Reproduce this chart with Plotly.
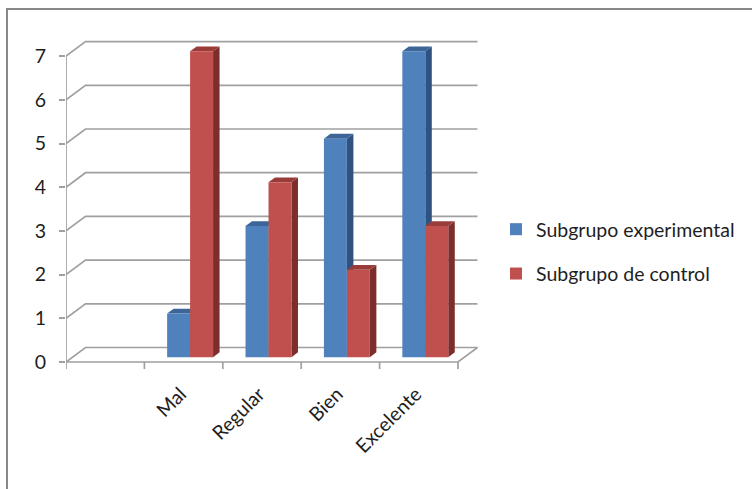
import plotly.graph_objects as go

# Datos
categorias = ["Mal", "Regular", "Bien", "Excelente"]
experimental = [1, 3, 5, 7]
control = [7, 4, 2, 3]
series = ["Subgrupo experimental", "Subgrupo de control"]
valores_y = [0, 1, 2, 3, 4, 5, 6, 7]

# Colores (cara frontal, lateral, superior)
AZUL = ("#4F81BD", "#2F5280", "#3D6598")
ROJO = ("#C0504D", "#7B2E2C", "#9A3C39")
GRIS = "#A0A0A0"
TEXTO = "#1E1E1E"

# Escala de píxeles por unidad de datos
W, H = 752, 489
X0, PX_X = 66, 78.4          # eje x: posición del origen y px por categoría
Y0, PX_Y = 362, 43.7         # eje y: posición del cero y px por unidad
LEFT, RIGHT, TOP, BOTTOM = 66, 486, 30, 378

# Profundidad del efecto 3D, en unidades de datos
DX = 19.5 / PX_X
DY = 14.5 / PX_Y
N_SLOTS = len(categorias) + 1      # primera ranura vacía
ANCHO = 0.293                      # ancho de cada barra
PROF0, PROF1 = 1 / 3, 2 / 3        # posición de las barras en la profundidad

fig = go.Figure()


def linea(xs, ys, color=GRIS, width=1.7):
    fig.add_trace(go.Scatter(x=xs, y=ys, mode="lines", line=dict(color=color, width=width),
                             hoverinfo="skip", showlegend=False))


def cara(xs, ys, color):
    fig.add_trace(go.Scatter(x=xs + [xs[0]], y=ys + [ys[0]], mode="lines", fill="toself",
                             fillcolor=color, line=dict(width=0, color=color),
                             hoverinfo="skip", showlegend=False))


# Suelo
cara([0, N_SLOTS, N_SLOTS + DX, DX], [0, 0, DY, DY], "white")

# Rejilla: paredes izquierda y trasera
vmax = max(valores_y)
for v in valores_y:
    linea([0, DX, N_SLOTS + DX], [v, v + DY, v + DY])
# Borde frontal y lateral derecho del suelo
linea([0, N_SLOTS, N_SLOTS + DX], [0, 0, DY])
# Eje vertical frontal
linea([0, 0], [0, vmax])
# Marcas de categoría
for k in range(N_SLOTS + 1):
    linea([k, k], [0, -7 / PX_Y])


def barra(izq, valor, colores):
    fx, fy = DX * PROF0, DY * PROF0
    bx, by = DX * (PROF1 - PROF0), DY * (PROF1 - PROF0)
    x0, x1 = izq + fx, izq + ANCHO + fx
    y0, y1 = fy, valor + fy
    # lateral
    cara([x1, x1 + bx, x1 + bx, x1], [y0, y0 + by, y1 + by, y1], colores[1])
    # superior
    cara([x0, x1, x1 + bx, x0 + bx], [y1, y1, y1 + by, y1 + by], colores[2])
    # frontal
    cara([x0, x1, x1, x0], [y0, y0, y1, y1], colores[0])


for i, (e, c) in enumerate(zip(experimental, control)):
    centro = i + 1 + 0.5
    barra(centro - ANCHO, e, AZUL)
    barra(centro, c, ROJO)

# Entradas de la leyenda
for nombre, col, grupo in zip(series, (AZUL[0], ROJO[0]), ("a", "b")):
    fig.add_trace(go.Scatter(x=[None], y=[None], mode="markers", name=nombre,
                             legendgroup=grupo,
                             marker=dict(symbol="square", size=12, color=col)))

xr = [0, (RIGHT - LEFT) / PX_X]
yr = [-(BOTTOM - Y0) / PX_Y, (Y0 - TOP) / PX_Y]

fig.update_layout(
    width=W, height=H, autosize=False,
    margin=dict(l=LEFT, r=W - RIGHT, t=TOP, b=H - BOTTOM, autoexpand=False),
    plot_bgcolor="white", paper_bgcolor="white",
    font=dict(family="Lato", size=19.5, color=TEXTO),
    showlegend=True,
    legend=dict(xref="container", yref="container",
                x=496 / W, y=1 - 210 / H,
                xanchor="left", yanchor="top", tracegroupgap=16,
                font=dict(family="Lato", size=19.5, color=TEXTO),
                bgcolor="rgba(0,0,0,0)"),
    xaxis=dict(range=xr, showgrid=False, zeroline=False, showline=False,
               tickmode="array",
               tickvals=[i + 1.5 for i in range(len(categorias))],
               ticktext=categorias, tickangle=-45, ticks="",
               ticklabelshift=-3, fixedrange=True),
    yaxis=dict(range=yr, showgrid=False, zeroline=False, showline=False,
               tickmode="array", tickvals=valores_y,
               ticktext=[str(v) for v in valores_y],
               ticks="outside", ticklen=6, tickcolor=GRIS, tickwidth=1.7,
               ticklabelstandoff=9, fixedrange=True),
    shapes=[dict(type="rect", xref="paper", yref="paper",
                 x0=(7 - LEFT) / (RIGHT - LEFT), x1=(770 - LEFT) / (RIGHT - LEFT),
                 y0=(BOTTOM - 500) / (BOTTOM - TOP), y1=(BOTTOM - 9) / (BOTTOM - TOP),
                 line=dict(color="#888888", width=2), fillcolor="rgba(0,0,0,0)",
                 layer="below")],
)

fig.write_html("out.html")
